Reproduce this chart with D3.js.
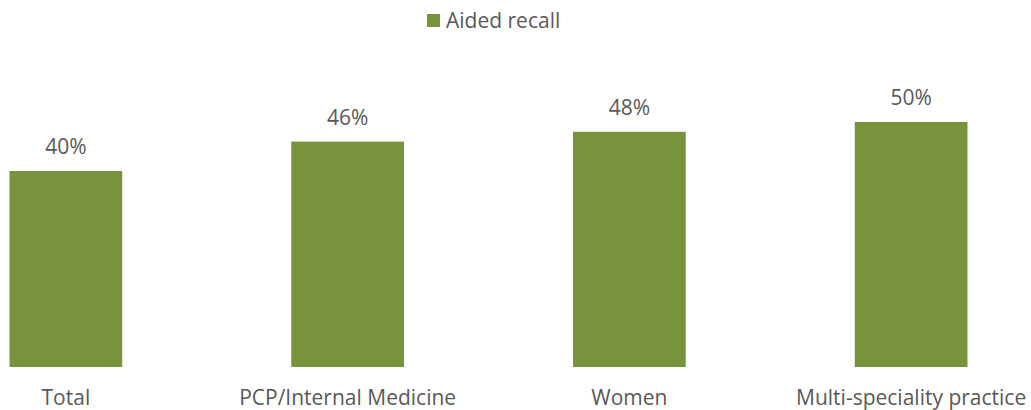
<!DOCTYPE html>
<html>
<head>
<meta charset="utf-8">
<script src="https://cdn.jsdelivr.net/npm/d3@7"></script>
<style>
  body { margin: 0; background: #fff; }
  text { font-family: "Open Sans", sans-serif; fill: #595959; }
</style>
</head>
<body>
<script>
var categories = ["Total", "PCP/Internal Medicine", "Women", "Multi-speciality practice"];
var values = [40, 46, 48, 50];
var seriesName = "Aided recall";

var width = 1031, height = 410;
var baseline = 367;

var svg = d3.select("body").append("svg")
    .attr("width", width)
    .attr("height", height);

// bands centred on 66, 348, 630, 911
var x = d3.scaleBand()
    .domain(categories)
    .range([-75, 1052])
    .paddingInner(0.6)
    .paddingOuter(0.3);

var y = d3.scaleLinear()
    .domain([0, 50])
    .range([baseline, 122]);

svg.selectAll(".bar")
    .data(values)
    .enter().append("rect")
    .attr("class", "bar")
    .attr("x", function(d, i) { return x(categories[i]); })
    .attr("width", x.bandwidth())
    .attr("y", function(d) { return y(d); })
    .attr("height", function(d) { return baseline - y(d); })
    .attr("fill", "#77933c");

svg.selectAll(".val")
    .data(values)
    .enter().append("text")
    .attr("class", "val")
    .attr("x", function(d, i) { return x(categories[i]) + x.bandwidth() / 2; })
    .attr("y", function(d) { return y(d) - 17; })
    .attr("text-anchor", "middle")
    .style("font-size", "21px")
    .text(function(d) { return d + "%"; });

// category labels (no axis line in the original)
svg.selectAll(".cat")
    .data(categories)
    .enter().append("text")
    .attr("class", "cat")
    .attr("x", function(d) { return x(d) + x.bandwidth() / 2; })
    .attr("y", 405)
    .attr("text-anchor", "middle")
    .style("font-size", "21px")
    .text(function(d) { return d; });

// legend
var legend = svg.append("g").attr("transform", "translate(427,14)");
legend.append("rect")
    .attr("width", 13).attr("height", 13)
    .attr("fill", "#77933c");
legend.append("text")
    .attr("x", 19).attr("y", 14)
    .style("font-size", "21px")
    .text(seriesName);
</script>
</body>
</html>
